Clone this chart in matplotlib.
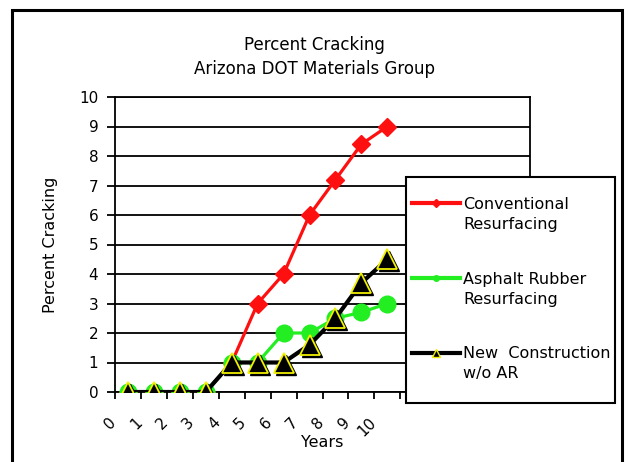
import numpy as np
import matplotlib
matplotlib.use('Agg')
import matplotlib.pyplot as plt
from matplotlib.lines import Line2D
from matplotlib.patches import Rectangle
from matplotlib.legend_handler import HandlerLine2D
from matplotlib import transforms

# data
years = [0, 1, 2, 3, 4, 5, 6, 7, 8, 9, 10]
n_slots = 16  # category slots on the axis (only 0-10 labelled)
conventional = [0, 0, 0, 0, 1, 3, 4, 6, 7.2, 8.4, 9]
asphalt_rubber = [0, 0, 0, 0, 1, 1, 2, 2, 2.5, 2.7, 3]
new_construction = [0, 0, 0, 0, 1, 1, 1, 1.6, 2.5, 3.7, 4.5]
series_names = ['Conventional\nResurfacing', 'Asphalt Rubber\nResurfacing', 'New  Construction\nw/o AR']

plt.rcParams['font.family'] = ['DejaVu Sans']
fs = 11
lfs = 11.5

W, H = 629, 462
fig = plt.figure(figsize=(W / 100, H / 100), dpi=100)
ax = fig.add_axes([115 / W, 1 - 392 / H, (530 - 115) / W, (392 - 97) / H])

# outer chart frame
fig.add_artist(Rectangle((12 / W, -0.05), (622 - 12) / W, 1.05 - 10 / H,
                         transform=fig.transFigure, fill=False, lw=2.2, ec='black'))

x = np.array(years)
ax.plot(x, conventional, color='#ff1010', lw=2.3, marker='D', ms=9,
        mfc='#ff1010', mec='#ff1010', zorder=3)
ax.plot(x, asphalt_rubber, color='#22ee22', lw=2.3, marker='o', ms=12,
        mfc='#22ee22', mec='#22ee22', zorder=4)
shadow = transforms.offset_copy(ax.transData, fig=fig, x=2, y=-2, units='dots')
ax.plot(x, new_construction, ls='none', marker='^', ms=14, mfc='black',
        mec='black', transform=shadow, zorder=5)
ax.plot(x, new_construction, color='black', lw=3, marker='^', ms=14,
        mfc='black', mec='#f0f000', mew=1.3, zorder=6)

ax.set_xlim(-0.5, n_slots - 0.5)
ax.set_ylim(0, 10)
ax.set_yticks(range(0, 11))
ax.yaxis.grid(True, color='black', lw=1.3)
ax.set_axisbelow(True)
for sp in ax.spines.values():
    sp.set_linewidth(1.3)

ax.tick_params(axis='y', direction='out', length=6, width=1.3, pad=6, labelsize=fs)
ax.set_xticks(x)
ax.set_xticks(np.arange(-0.5, n_slots, 1), minor=True)
ax.tick_params(axis='x', which='major', length=0, pad=20)
ax.tick_params(axis='x', which='minor', direction='out', length=5, width=1.3)
ax.set_xticklabels([str(v) for v in years], rotation=45, ha='right', va='center',
                   rotation_mode='anchor', fontsize=fs)
shift = transforms.ScaledTranslation(-14 / 100, 0, fig.dpi_scale_trans)
for lab in ax.get_xticklabels():
    lab.set_transform(lab.get_transform() + shift)

ax.set_ylabel('Percent Cracking', fontsize=lfs)
ax.yaxis.set_label_coords(-0.137, 0.5)
ax.set_xlabel('Years', fontsize=lfs, va='center')
ax.xaxis.set_label_coords(0.5, -0.17)

fig.text(0.5, 1 - 57 / H, 'Percent Cracking\nArizona DOT Materials Group',
         ha='center', va='center', fontsize=12, linespacing=1.5)


class TopLine(HandlerLine2D):
    def create_artists(self, legend, orig_handle, xdescent, ydescent, width,
                       height, fontsize, trans):
        return super().create_artists(legend, orig_handle, xdescent,
                                      ydescent - 1.45 * fontsize, width, height,
                                      fontsize, trans)


# legend box frame drawn separately so that its padding can differ from the entries'
fig.add_artist(Rectangle((406 / W, 1 - 403 / H), (615 - 406) / W, (403 - 177) / H,
                         transform=fig.transFigure, fc='white', ec='black', lw=1.5,
                         zorder=9))
handles = [
    Line2D([], [], color='#ff1010', lw=3, marker='D', ms=4, mfc='#ff1010', mec='#ff1010'),
    Line2D([], [], color='#22ee22', lw=3, marker='o', ms=4, mfc='#22ee22', mec='#22ee22'),
    Line2D([], [], color='black', lw=3, marker='^', ms=6, mfc='black', mec='#f0f000'),
]
leg = fig.legend(handles, series_names, loc='upper left',
                 bbox_to_anchor=(412 / W, 1 - 197 / H),
                 fontsize=lfs, frameon=False, borderpad=0, labelspacing=2.5,
                 handlelength=3.0, handletextpad=0.2, borderaxespad=0,
                 handler_map={Line2D: TopLine(numpoints=1)})
leg.set_zorder(10)
for t in leg.get_texts():
    t.set_linespacing(1.4)

fig.savefig('out.png', dpi=100)
